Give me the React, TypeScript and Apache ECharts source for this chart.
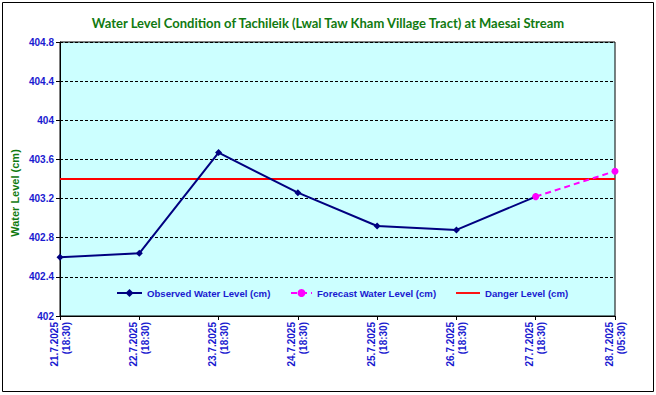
import React, { useEffect, useRef } from "react";
import * as echarts from "echarts";

const categories = [
  "21.7.2025\n(18:30)",
  "22.7.2025\n(18:30)",
  "23.7.2025\n(18:30)",
  "24.7.2025\n(18:30)",
  "25.7.2025\n(18:30)",
  "26.7.2025\n(18:30)",
  "27.7.2025\n(18:30)",
  "28.7.2025\n(05:30)",
];
const observed = [402.6, 402.64, 403.67, 403.26, 402.92, 402.88, 403.22, null];
const forecast = [null, null, null, null, null, null, 403.22, 403.48];
const danger = [403.4, 403.4, 403.4, 403.4, 403.4, 403.4, 403.4, 403.4];

const TITLE = "Water Level Condition of Tachileik (Lwal Taw Kham Village Tract) at Maesai Stream";
const Y_NAME = "Water Level (cm)";
const NAMES = ["Observed Water Level (cm)", "Forecast Water Level (cm)", "Danger Level (cm)"];

export default function App() {
  const ref = useRef<HTMLDivElement>(null);
  useEffect(() => {
    if (!ref.current) return;
    const chart = echarts.init(ref.current, null, { renderer: "svg" });
    const blue = "#1a1ad0";
    const green = "#117a11";
    const legendText = {
      fontFamily: "Liberation Sans",
      fontWeight: "bold",
      fontSize: 9.6,
      color: blue,
    };
    chart.setOption({
      animation: false,
      backgroundColor: "#ffffff",
      title: {
        text: TITLE,
        left: "center",
        top: 11,
        textStyle: {
          fontFamily: "Lato",
          fontWeight: "bold",
          fontSize: 13,
          color: green,
        },
      },
      graphic: [
        {
          type: "rect",
          shape: { x: 2.5, y: 2.5, width: 651, height: 389 },
          style: { fill: "none", stroke: "#000", lineWidth: 1 },
          silent: true,
        },
        {
          type: "text",
          x: 15,
          y: 193,
          rotation: Math.PI / 2,
          style: {
            text: Y_NAME,
            align: "center",
            verticalAlign: "middle",
            fontFamily: "Liberation Sans",
            fontWeight: "bold",
            fontSize: 11,
            fill: green,
          },
          silent: true,
        },
      ],
      grid: {
        left: 60,
        right: 41,
        top: 42,
        bottom: 79,
        show: true,
        backgroundColor: "#ccffff",
        borderColor: "#000",
        borderWidth: 1,
      },
      legend: [
        {
          left: 111,
          top: 283,
          itemWidth: 25,
          itemHeight: 10,
          textStyle: legendText,
          data: [{ name: NAMES[0] }],
        },
        {
          left: 285,
          top: 283,
          itemWidth: 21,
          itemHeight: 10,
          textStyle: legendText,
          data: [{ name: NAMES[1] }],
        },
        {
          left: 451,
          top: 283,
          itemWidth: 24,
          itemHeight: 10,
          textStyle: legendText,
          data: [{ name: NAMES[2], icon: "path://M0,0 L26,0 L26,2 L0,2 Z" }],
        },
      ],
      xAxis: {
        type: "category",
        boundaryGap: false,
        data: categories,
        axisLine: { lineStyle: { color: "#000", width: 1 } },
        axisTick: { show: true, length: 4, lineStyle: { color: "#000" } },
        splitLine: { show: false },
        axisLabel: {
          rotate: 90,
          interval: 0,
          margin: 6,
          fontFamily: "Liberation Sans",
          fontWeight: "bold",
          fontSize: 10,
          lineHeight: 12,
          color: blue,
        },
      },
      yAxis: {
        type: "value",
        min: 402,
        max: 404.8,
        interval: 0.4,
        axisLine: { show: true, lineStyle: { color: "#000", width: 1 } },
        axisTick: { show: true, length: 4, lineStyle: { color: "#000" } },
        splitLine: { show: true, lineStyle: { color: "#000", type: [3, 2], width: 1 } },
        axisLabel: {
          margin: 6,
          fontFamily: "Liberation Sans",
          fontWeight: "bold",
          fontSize: 10,
          color: blue,
        },
      },
      series: [
        {
          name: NAMES[0],
          type: "line",
          data: observed,
          color: "#000080",
          lineStyle: { color: "#000080", width: 2 },
          symbol: "diamond",
          symbolSize: 7,
          itemStyle: { color: "#000080" },
          z: 3,
        },
        {
          name: NAMES[1],
          type: "line",
          data: forecast,
          color: "#ff00ff",
          lineStyle: { color: "#ff00ff", width: 2, type: [6, 4] },
          symbol: "circle",
          symbolSize: 7,
          itemStyle: { color: "#ff00ff" },
          z: 4,
        },
        {
          name: NAMES[2],
          type: "line",
          data: danger,
          color: "#ff0000",
          lineStyle: { color: "#ff0000", width: 2 },
          showSymbol: false,
          itemStyle: { color: "#ff0000" },
          z: 2,
        },
      ],
    });
    return () => chart.dispose();
  }, []);
  return (
    <div
      ref={ref}
      style={{ position: "absolute", left: 0, top: 0, width: 656, height: 395 }}
    />
  );
}
